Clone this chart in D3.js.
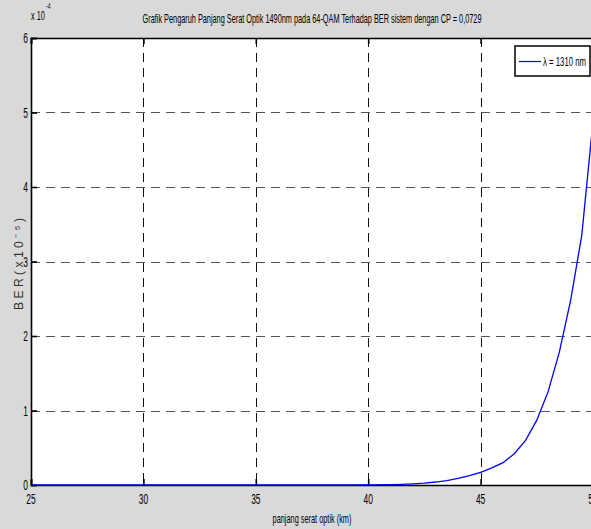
<!DOCTYPE html>
<html>
<head>
<meta charset="utf-8">
<script src="https://cdn.jsdelivr.net/npm/d3@7"></script>
<style>
  html, body { margin: 0; padding: 0; background: #d9d9d9; }
  svg { display: block; }
  text { font-family: "Liberation Sans", Arial, sans-serif; }
</style>
</head>
<body>
<script>
// Fibre length (km) and bit error rate (in units of 1e-4)
const lengthKm = [25, 26, 27, 28, 29, 30, 31, 32, 33, 34, 35, 36, 37, 38, 39, 40,
  41, 41.5, 42, 42.5, 43, 43.5, 44, 44.5, 45, 45.5, 46, 46.5, 47, 47.5, 48, 48.5, 49, 49.5, 50];
const berE4 = [0, 0, 0, 0, 0, 0, 0, 0, 0, 0, 0, 0, 0, 0, 0, 0.001,
  0.004, 0.008, 0.015, 0.025, 0.04, 0.06, 0.09, 0.125, 0.17, 0.23, 0.30, 0.42, 0.60, 0.87, 1.25, 1.78, 2.47, 3.35, 4.88];
const xTicks = [25, 30, 35, 40, 45, 50];
const yTicks = [0, 1, 2, 3, 4, 5, 6];
const seriesName = "λ = 1310 nm";
const titleText = "Grafik Pengaruh Panjang Serat Optik 1490nm pada 64-QAM Terhadap BER sistem dengan CP = 0,0729";

const W = 591, H = 529;
const m = { left: 31, top: 38, right: 593, bottom: 485 };
const SX = 0.56; // horizontal squeeze for the narrow lettering

const svg = d3.select("body").append("svg").attr("width", W).attr("height", H);
svg.append("rect").attr("width", W).attr("height", H).attr("fill", "#d9d9d9");

const x = d3.scaleLinear().domain([25, 50]).range([m.left, m.right]);
const y = d3.scaleLinear().domain([0, 6]).range([m.bottom, m.top]);

// plot area
svg.append("rect").attr("x", m.left).attr("y", m.top)
  .attr("width", m.right - m.left).attr("height", m.bottom - m.top).attr("fill", "#fff");

// grid
const grid = svg.append("g");
grid.selectAll(".gy").data(yTicks.filter(d => d > 0 && d < 6)).join("line")
  .attr("x1", m.left).attr("x2", m.right)
  .attr("y1", d => Math.round(y(d)) + 0.5).attr("y2", d => Math.round(y(d)) + 0.5)
  .attr("stroke", "#555").attr("stroke-width", 1.1).attr("stroke-dasharray", "9,6");
grid.selectAll(".gx").data(xTicks.filter(d => d > 25 && d < 50)).join("line")
  .attr("x1", d => Math.round(x(d)) + 0.5).attr("x2", d => Math.round(x(d)) + 0.5)
  .attr("y1", m.top).attr("y2", m.bottom)
  .attr("stroke", "#111").attr("stroke-width", 1).attr("stroke-dasharray", "9,6");

// axes with inward ticks; their labels are drawn separately, condensed
function styleAxis(g) {
  g.selectAll("text").remove();
  g.selectAll("path,line").attr("stroke", "#000").attr("stroke-width", 1.6);
}
svg.append("g").attr("transform", `translate(0,${m.bottom})`)
  .call(d3.axisBottom(x).tickValues(xTicks).tickSize(-6)).call(styleAxis);
svg.append("g").attr("transform", `translate(0,${m.top})`)
  .call(d3.axisTop(x).tickValues(xTicks).tickSize(-6)).call(styleAxis);
svg.append("g").attr("transform", `translate(${m.left},0)`)
  .call(d3.axisLeft(y).tickValues(yTicks).tickSize(-6)).call(styleAxis);

// condensed labels helper
function label(tx, ty, str, size, anchor) {
  const g = svg.append("g").attr("transform", `translate(${tx},${ty}) scale(${SX},1)`);
  return g.append("text").attr("font-size", size).attr("text-anchor", anchor).attr("fill", "#000").text(str);
}

// text squeezed horizontally to a given width
function fitted(tx, ty, str, size, anchor, width, rot, fill) {
  const g = svg.append("g");
  const t = g.append("text").attr("font-size", size).attr("text-anchor", anchor)
    .attr("fill", fill || "#000").text(str);
  const natural = t.node().getComputedTextLength();
  const k = width / natural;
  g.attr("transform", `translate(${tx},${ty})` + (rot ? ` rotate(${rot})` : "") + ` scale(${k},1)`);
  return t;
}

xTicks.forEach(d => label(x(d), 504, d, 15, "middle"));
yTicks.forEach(d => label(28, y(d) + 5, d, 15, "end"));

// exponent marker
label(31, 20, "x 10", 13, "start");
label(46, 9, "-4", 9, "start");

// title
fitted(312, 23, titleText, 13, "middle", 339);

// axis titles
fitted(312, 523, "panjang serat optik (km)", 13, "middle", 79);
fitted(23, 264, "B E R   ( x 1 0 ⁻ ⁵ )", 12, "middle", 92, -90, "#333");

// BER curve
const line = d3.line().x((d, i) => x(lengthKm[i])).y(d => y(d));
svg.append("path").datum(berE4).attr("d", line)
  .attr("fill", "none").attr("stroke", "#0000ff").attr("stroke-width", 1.3);

// legend
svg.append("rect").attr("x", 515).attr("y", 46).attr("width", 75).attr("height", 30)
  .attr("fill", "#fff").attr("stroke", "#000").attr("stroke-width", 1.5);
svg.append("line").attr("x1", 519).attr("x2", 541).attr("y1", 61.5).attr("y2", 61.5)
  .attr("stroke", "#0000ff").attr("stroke-width", 1.2);
fitted(543, 66, seriesName, 13, "start", 43);
</script>
</body>
</html>
